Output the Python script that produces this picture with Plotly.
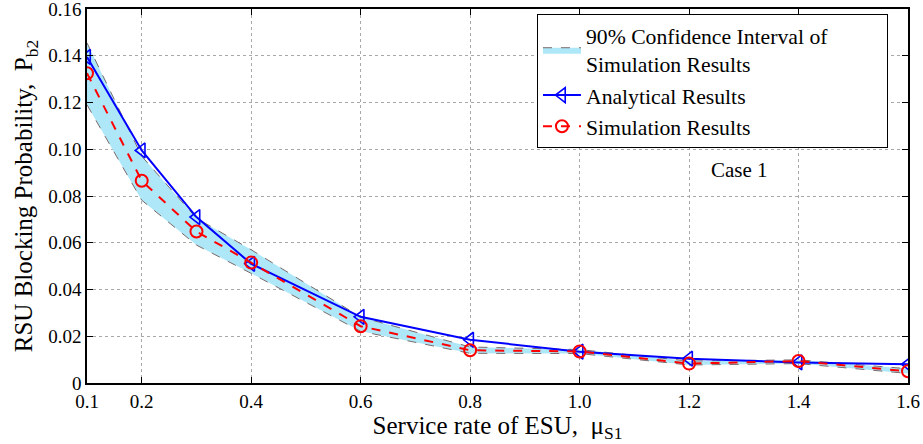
import plotly.graph_objects as go

# Service rate of ESU (mu_S1)
service_rate = [0.1, 0.2, 0.3, 0.4, 0.6, 0.8, 1.0, 1.2, 1.4, 1.6]

# RSU blocking probability P_b2
analytical = [0.1395, 0.0995, 0.0710, 0.0510, 0.0283, 0.0185, 0.0134, 0.0104, 0.0088, 0.0080]
simulation = [0.1325, 0.0865, 0.0648, 0.0515, 0.0243, 0.0140, 0.0135, 0.0083, 0.0094, 0.0050]

# 90% confidence interval bounds of the simulation
ci_upper = [0.1455, 0.0970, 0.0705, 0.0570, 0.0282, 0.0154, 0.0143, 0.0094, 0.0099, 0.0061]
ci_lower = [0.1190, 0.0782, 0.0590, 0.0469, 0.0221, 0.0127, 0.0126, 0.0077, 0.0083, 0.0041]

x_tickvals = [0.1, 0.2, 0.4, 0.6, 0.8, 1.0, 1.2, 1.4, 1.6]
x_ticktext = ["0.1", "0.2", "0.4", "0.6", "0.8", "1.0", "1.2", "1.4", "1.6"]
y_tickvals = [0, 0.02, 0.04, 0.06, 0.08, 0.10, 0.12, 0.14, 0.16]
y_ticktext = ["0", "0.02", "0.04", "0.06", "0.08", "0.10", "0.12", "0.14", "0.16"]

FONT = "Liberation Serif"
BAND_FILL = "#aee7f8"
BAND_EDGE = "#7a6a6a"
# trailing space keeps the legend box wide on the right
PAD = "&nbsp;" * 10

fig = go.Figure()

fig.add_trace(go.Scatter(
    x=service_rate, y=ci_lower, mode="lines",
    line=dict(color=BAND_EDGE, width=1, dash="dash"),
    showlegend=False, hoverinfo="skip",
))
fig.add_trace(go.Scatter(
    x=service_rate, y=ci_upper, mode="lines",
    line=dict(color=BAND_EDGE, width=1, dash="dash"),
    fill="tonexty", fillcolor=BAND_FILL,
    name="90% Confidence Interval of" + PAD + "<br>Simulation Results",
))
fig.add_trace(go.Scatter(
    x=service_rate, y=analytical, mode="lines+markers",
    line=dict(color="#0000ff", width=2),
    marker=dict(symbol="triangle-left-open", size=13, color="#0000ff",
                line=dict(width=1.6)),
    name="Analytical Results",
))
fig.add_trace(go.Scatter(
    x=service_rate, y=simulation, mode="lines+markers",
    line=dict(color="#ff0000", width=2, dash="dash"),
    marker=dict(symbol="circle-open", size=12, color="#ff0000",
                line=dict(width=2)),
    name="Simulation Results",
))

fig.add_annotation(
    x=1.293, y=0.091, xref="x", yref="y", text="Case 1", showarrow=False,
    font=dict(family=FONT, size=21, color="black"),
)

axis_common = dict(
    showline=True, linecolor="black", linewidth=1.5, mirror="ticks",
    ticks="inside", ticklen=6, tickcolor="black", tickwidth=1,
    showgrid=True, gridcolor="#a8a8a8", griddash="dot", gridwidth=1,
    zeroline=False, ticklabeloverflow="allow",
    tickfont=dict(family=FONT, size=19, color="black"),
)

fig.update_layout(
    width=923, height=444,
    margin=dict(l=87, r=15, t=9, b=61),
    paper_bgcolor="white", plot_bgcolor="white",
    font=dict(family=FONT, color="black"),
    xaxis=dict(
        range=[0.1, 1.6], tickvals=x_tickvals, ticktext=x_ticktext,
        automargin="bottom",
        title=dict(text="Service rate of ESU,  \u03bc<sub>S1</sub>",
                   font=dict(family=FONT, size=25), standoff=3),
        **axis_common,
    ),
    yaxis=dict(
        range=[0, 0.16], tickvals=y_tickvals, ticktext=y_ticktext,
        automargin=False,
        title=dict(text="RSU Blocking Probability,  P<sub>b2</sub>",
                   font=dict(family=FONT, size=25), standoff=8),
        **axis_common,
    ),
    legend=dict(
        x=0.9756, y=0.9866, xanchor="right", yanchor="top",
        bgcolor="white", bordercolor="black", borderwidth=1,
        font=dict(family=FONT, size=21.7, color="black"),
        itemwidth=38, tracegroupgap=0, traceorder="normal",
    ),
    showlegend=True,
)

fig.write_html("out.html")
